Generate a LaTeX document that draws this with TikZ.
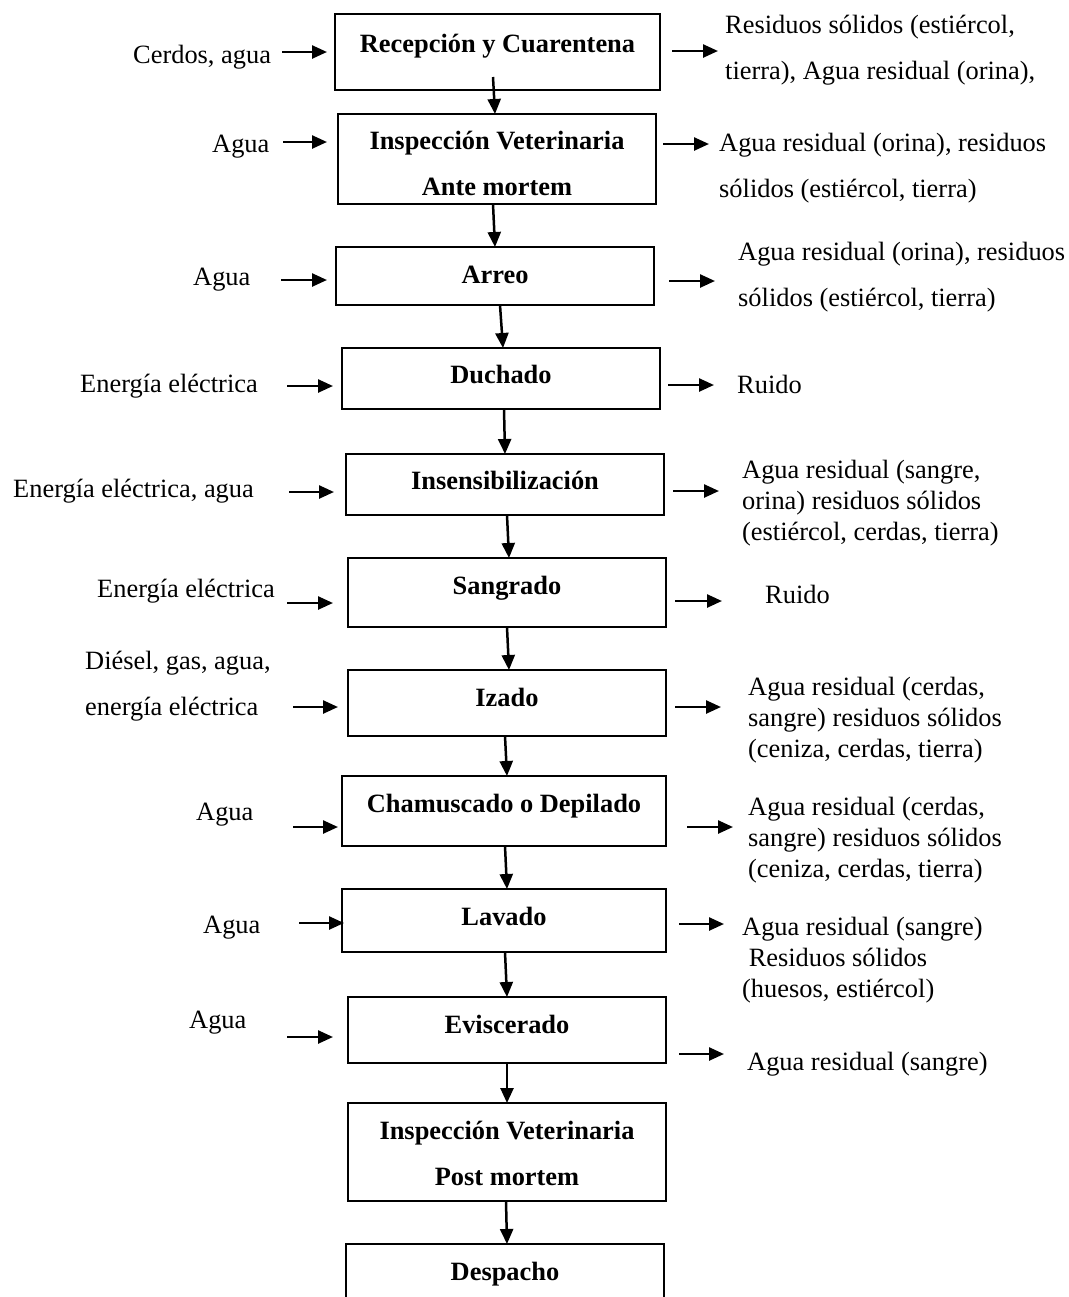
\documentclass[tikz,border=0pt]{standalone}
\usepackage{fontspec}
\setmainfont{Liberation Serif}
\usetikzlibrary{arrows.meta}
\tikzset{
  box/.style={draw, line width=1.8bp, inner sep=0pt, outer sep=0pt},
  btxt/.style={font=\fontsize{26.4bp}{46bp}\selectfont\bfseries, inner sep=0pt, anchor=base, align=center},
  stxt/.style={font=\fontsize{26.4bp}{30.7bp}\selectfont, inner sep=0pt, anchor=base west, align=left},
  dtxt/.style={font=\fontsize{26.4bp}{46bp}\selectfont, inner sep=0pt, anchor=base west, align=left},
  arr/.style={line width=2.5bp, -{Triangle[length=15bp,width=13bp]}}
}
\begin{document}
\begin{tikzpicture}[x=1bp,y=-1bp]
\useasboundingbox (0,0) rectangle (1069,1297);
\clip (0,0) rectangle (1069,1297);
% boxes
\node[box, minimum width=325bp, minimum height=76bp] (b1) at (497.5,52) {};
\node[box, minimum width=318bp, minimum height=90bp] (b2) at (497,159) {};
\node[box, minimum width=318bp, minimum height=58bp] (b3) at (495,276) {};
\node[box, minimum width=318bp, minimum height=61bp] (b4) at (501,378.5) {};
\node[box, minimum width=318bp, minimum height=61bp] (b5) at (505,484.5) {};
\node[box, minimum width=318bp, minimum height=69bp] (b6) at (507,592.5) {};
\node[box, minimum width=318bp, minimum height=66bp] (b7) at (507,703) {};
\node[box, minimum width=324bp, minimum height=70bp] (b8) at (504,811) {};
\node[box, minimum width=324bp, minimum height=63bp] (b9) at (504,920.5) {};
\node[box, minimum width=318bp, minimum height=66bp] (b10) at (507,1030) {};
\node[box, minimum width=318bp, minimum height=98bp] (b11) at (507,1152) {};
\node[box, minimum width=318bp, minimum height=66bp] (b12) at (505,1277) {};
% box texts (base anchor = baseline of last line)
\node[btxt] (t1) at (497.5,52) {Recepción y Cuarentena};
\node[btxt] (t2) at (497,195) {Inspección Veterinaria\\Ante mortem};
\node[btxt] (t3) at (495,283) {Arreo};
\node[btxt] (t4) at (501,383) {Duchado};
\node[btxt] (t5) at (505,489) {Insensibilización};
\node[btxt] (t6) at (507,594) {Sangrado};
\node[btxt] (t7) at (507,706) {Izado};
\node[btxt] (t8) at (504,812) {Chamuscado o Depilado};
\node[btxt] (t9) at (504,925) {Lavado};
\node[btxt] (t10) at (507,1033) {Eviscerado};
\node[btxt] (t11) at (507,1185) {Inspección Veterinaria\\Post mortem};
\node[btxt] (t12) at (505,1280) {Despacho};
% vertical arrows
\draw[arr] ([xshift=-4.5bp,yshift=13bp]b1.south) -- ([xshift=-2bp]b2.north);
\draw[arr] ([xshift=-4bp]b2.south) -- (b3.north);
\draw[arr] ([xshift=5bp]b3.south) -- ([xshift=2bp]b4.north);
\draw[arr] ([xshift=3bp]b4.south) -- (b5.north);
\draw[arr] ([xshift=2bp]b5.south) -- ([xshift=2bp]b6.north);
\draw[arr] (b6.south) -- ([xshift=2bp]b7.north);
\draw[arr] ([xshift=-2bp]b7.south) -- ([xshift=3bp]b8.north);
\draw[arr] ([xshift=1bp]b8.south) -- ([xshift=3bp]b9.north);
\draw[arr] ([xshift=1bp]b9.south) -- (b10.north);
\draw[arr] (b10.south) -- (b11.north);
\draw[arr] ([xshift=-1bp]b11.south) -- ([xshift=2bp]b12.north);
% input texts
\node[stxt] (i1) at (133,63) {Cerdos, agua};
\node[stxt] (i2) at (212,152) {Agua};
\node[stxt] (i3) at (193,285) {Agua};
\node[stxt] (i4) at (80,392) {Energía eléctrica};
\node[stxt] (i5) at (13,497) {Energía eléctrica, agua};
\node[stxt] (i6) at (97,597) {Energía eléctrica};
\node[dtxt] (i7) at (85,715) {Diésel, gas, agua,\\energía eléctrica};
\node[stxt] (i8) at (196,820) {Agua};
\node[stxt] (i9) at (203,933) {Agua};
\node[stxt] (i10) at (189,1028) {Agua};
% input arrows
\coordinate (ia1) at (282,52);  \coordinate (ib1) at (327,52);
\coordinate (ia2) at (283,142); \coordinate (ib2) at (327,142);
\coordinate (ia3) at (281,280); \coordinate (ib3) at (327,280);
\coordinate (ia4) at (287,386); \coordinate (ib4) at (333,386);
\coordinate (ia5) at (289,492); \coordinate (ib5) at (334,492);
\coordinate (ia6) at (287,603); \coordinate (ib6) at (333,603);
\coordinate (ia7) at (293,707); \coordinate (ib7) at (338,707);
\coordinate (ia8) at (293,827); \coordinate (ib8) at (338,827);
\coordinate (ia9) at (299,923); \coordinate (ib9) at (344,923);
\coordinate (ia10) at (287,1037); \coordinate (ib10) at (333,1037);
\foreach \k in {1,...,10} {\draw[arr] (ia\k) -- (ib\k);}
% output arrows
\coordinate (oa1) at (672,51);  \coordinate (ob1) at (718,51);
\coordinate (oa2) at (663,144); \coordinate (ob2) at (709,144);
\coordinate (oa3) at (669,281); \coordinate (ob3) at (715,281);
\coordinate (oa4) at (668,385); \coordinate (ob4) at (714,385);
\coordinate (oa5) at (673,491); \coordinate (ob5) at (719,491);
\coordinate (oa6) at (675,601); \coordinate (ob6) at (722,601);
\coordinate (oa7) at (675,707); \coordinate (ob7) at (721,707);
\coordinate (oa8) at (687,827); \coordinate (ob8) at (733,827);
\coordinate (oa9) at (679,924); \coordinate (ob9) at (724,924);
\coordinate (oa10) at (679,1054); \coordinate (ob10) at (724,1054);
\foreach \k in {1,...,10} {\draw[arr] (oa\k) -- (ob\k);}
% output texts
\node[dtxt] (o1) at (725,79) {Residuos sólidos (estiércol,\\tierra), Agua residual (orina),};
\node[dtxt] (o2) at (719,197) {Agua residual (orina), residuos\\sólidos (estiércol, tierra)};
\node[dtxt] (o3) at (738,306) {Agua residual (orina), residuos\\sólidos (estiércol, tierra)};
\node[stxt] (o4) at (737,393) {Ruido};
\node[stxt] (o5) at (742,540) {Agua residual (sangre,\\orina) residuos sólidos\\(estiércol, cerdas, tierra)};
\node[stxt] (o6) at (765,603) {Ruido};
\node[stxt] (o7) at (748,757) {Agua residual (cerdas,\\sangre) residuos sólidos\\(ceniza, cerdas, tierra)};
\node[stxt] (o8) at (748,877) {Agua residual (cerdas,\\sangre) residuos sólidos\\(ceniza, cerdas, tierra)};
\node[stxt] (o9) at (742,997) {Agua residual (sangre)\\\hspace*{0.25em}Residuos sólidos\\(huesos, estiércol)};
\node[stxt] (o10) at (747,1070) {Agua residual (sangre)};
\end{tikzpicture}
\end{document}
